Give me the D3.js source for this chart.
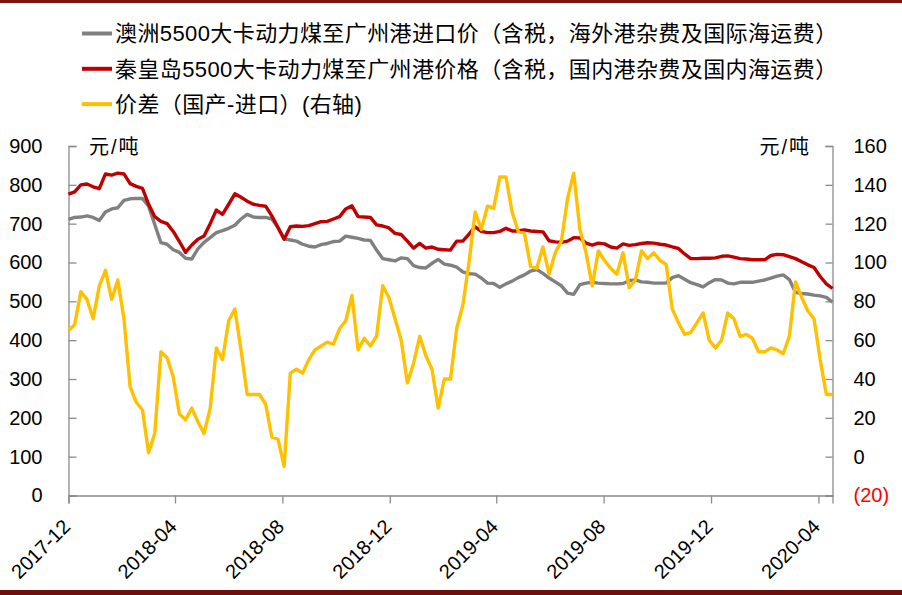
<!DOCTYPE html>
<html><head><meta charset="utf-8">
<script src="https://cdn.jsdelivr.net/npm/d3@7"></script>
<style>
html,body{margin:0;padding:0;background:#fff;}
svg{display:block;}
text{font-family:"Liberation Sans","Noto Sans CJK SC",Arial,sans-serif;}
</style></head>
<body>
<svg id="chart" width="902" height="595"></svg>
<script>
// weekly dates (Fridays)
const dates = [
"2017-12-01","2017-12-08","2017-12-15","2017-12-22","2017-12-29",
"2018-01-05","2018-01-12","2018-01-19","2018-01-26",
"2018-02-02","2018-02-09","2018-02-16","2018-02-23",
"2018-03-02","2018-03-09","2018-03-16","2018-03-23","2018-03-30",
"2018-04-06","2018-04-13","2018-04-20","2018-04-27",
"2018-05-04","2018-05-11","2018-05-18","2018-05-25",
"2018-06-01","2018-06-08","2018-06-15","2018-06-22","2018-06-29",
"2018-07-06","2018-07-13","2018-07-20","2018-07-27",
"2018-08-03","2018-08-10","2018-08-17","2018-08-24","2018-08-31",
"2018-09-07","2018-09-14","2018-09-21","2018-09-28",
"2018-10-05","2018-10-12","2018-10-19","2018-10-26",
"2018-11-02","2018-11-09","2018-11-16","2018-11-23","2018-11-30",
"2018-12-07","2018-12-14","2018-12-21","2018-12-28",
"2019-01-04","2019-01-11","2019-01-18","2019-01-25",
"2019-02-01","2019-02-08","2019-02-15","2019-02-22",
"2019-03-01","2019-03-08","2019-03-15","2019-03-22","2019-03-29",
"2019-04-05","2019-04-12","2019-04-19","2019-04-26",
"2019-05-03","2019-05-10","2019-05-17","2019-05-24","2019-05-31",
"2019-06-07","2019-06-14","2019-06-21","2019-06-28",
"2019-07-05","2019-07-12","2019-07-19","2019-07-26",
"2019-08-02","2019-08-09","2019-08-16","2019-08-23","2019-08-30",
"2019-09-06","2019-09-13","2019-09-20","2019-09-27",
"2019-10-04","2019-10-11","2019-10-18","2019-10-25",
"2019-11-01","2019-11-08","2019-11-15","2019-11-22","2019-11-29",
"2019-12-06","2019-12-13","2019-12-20","2019-12-27",
"2020-01-03","2020-01-10","2020-01-17","2020-01-24","2020-01-31",
"2020-02-07","2020-02-14","2020-02-21","2020-02-28",
"2020-03-06","2020-03-13","2020-03-20","2020-03-27",
"2020-04-03","2020-04-10","2020-04-17"
];

// 澳洲5500大卡动力煤至广州港进口价 (left axis)
const importPrice = [
711,716,717,720,716, 708,730,738,741, 760,764,765,765,
745,698,651,647,633, 626,611,609,635, 652,664,677,682,
688,696,712,724,717, 716,716,712,690, 661,658,655,647,642,
640,646,649,654, 655,668,665,662, 658,657,632,610,607,
604,612,610,592, 587,586,598,608, 596,593,588,576,
571,570,560,547,546, 536,545,552,561, 568,578,582,572,560,
550,540,521,518, 543,547,549,547, 546,545,545,546,553,
555,550,549,547, 547,547,561,566, 557,548,543,537,548,
556,555,547,545, 549,549,549,552,555, 560,565,568,556,
523,520,519,516, 514,510,498
];

// 秦皇岛5500大卡动力煤至广州港价格 (left axis)
const domesticPrice = [
776,782,800,802,795, 790,828,825,830, 828,803,796,791,
750,718,706,700,680, 654,626,645,660, 668,700,735,724,
750,777,768,758,750, 747,745,720,690, 660,692,694,693,695,
700,705,706,712, 718,738,746,718, 717,716,697,694,689,
675,672,655,637, 649,637,640,634, 633,632,655,655,
673,692,680,677,677, 680,688,681,681, 684,681,680,679,656,
653,652,655,664, 663,650,645,650, 648,640,637,648,644,
646,649,651,650, 647,645,640,636, 622,610,610,611,611,
612,616,617,614, 610,609,607,607,607, 618,621,620,615,
610,602,594,587, 564,545,533
];

// 价差（国产-进口）(右轴)
const spread = [
65,68,85,81,71, 88,96,81,91, 71,36,28,24,
2,12,54,51,41, 22,19,25,18, 12,25,56,50,
70,76,55,32,32, 32,27,10,9, -5,43,45,43,50,
55,57,59,58, 66,70,83,55, 61,57,62,88,82,
71,60,38,48, 62,52,45,25, 40,40,66,78,
100,126,117,129,128, 144,144,126,116, 115,98,97,108,94,
105,111,133,146, 117,105,88,106, 101,97,94,105,87,
91,106,102,105, 101,99,76,69, 63,64,69,74,60,
56,60,74,71, 62,63,61,54,54, 56,55,53,62,
90,82,75,71, 50,32,32
];

const xTickLabels = ["2017-12","2018-04","2018-08","2018-12","2019-04","2019-08","2019-12","2020-04"];
const leftTicks = [0,100,200,300,400,500,600,700,800,900];
const rightTicks = [-20,0,20,40,60,80,100,120,140,160];

const legendNames = [
  "澳洲5500大卡动力煤至广州港进口价（含税，海外港杂费及国际海运费）",
  "秦皇岛5500大卡动力煤至广州港价格（含税，国内港杂费及国内海运费）",
  "价差（国产-进口）(右轴)"
];
const colors = ["#808080","#C00000","#FFC000"];

const parse = d3.timeParse("%Y-%m-%d");
const parseM = d3.timeParse("%Y-%m");
const dd = dates.map(parse);

const svg = d3.select("#chart");
const L = 68.5, R = 832.5, T = 146, B = 495.5;

const x = d3.scaleTime().domain([parse("2017-12-01"), parse("2020-04-17")]).range([L, R]);
const yL = d3.scaleLinear().domain([0, 900]).range([B, T]);
const yR = d3.scaleLinear().domain([-20, 160]).range([B, T]);

// borders
svg.append("rect").attr("x",0).attr("y",0).attr("width",902).attr("height",3).attr("fill","#7A1212");
svg.append("rect").attr("x",0).attr("y",590).attr("width",902).attr("height",5).attr("fill","#6E0F0F");

const axisColor = "#8C8C8C";

// left axis
const gl = svg.append("g").attr("transform",`translate(${L},0)`)
  .call(d3.axisLeft(yL).tickValues(leftTicks).tickSize(-8).tickPadding(26).tickFormat(d3.format("d")));
// right axis
const gr = svg.append("g").attr("transform",`translate(${R},0)`)
  .call(d3.axisRight(yR).tickValues(rightTicks).tickSize(-7).tickPadding(21)
    .tickFormat(d => d < 0 ? `(${-d})` : String(d)));
// bottom axis
const gb = svg.append("g").attr("transform",`translate(0,${B})`)
  .call(d3.axisBottom(x).tickValues(xTickLabels.map(parseM)).tickSize(8).tickFormat(""));

[gl,gr,gb].forEach(g=>{
  g.select(".domain").attr("stroke",axisColor).attr("stroke-width",1.3);
  g.selectAll(".tick line").attr("stroke",axisColor).attr("stroke-width",1.3);
  g.selectAll("text").attr("font-size",20).attr("fill","#000")
    .attr("font-family","'Liberation Sans',Arial,sans-serif");
});
gr.selectAll(".tick text").attr("fill", d => d < 0 ? "#FF0000" : "#000");

// x labels rotated
svg.append("g").selectAll("text").data(xTickLabels).join("text")
  .attr("transform", d => `translate(${x(parseM(d)) + 3},528) rotate(-45)`)
  .attr("text-anchor","end")
  .attr("font-size",20)
  .attr("fill","#000")
  .text(d => d);

// unit labels
svg.append("text").attr("x",89).attr("y",147).attr("dy","0.36em")
  .attr("font-size",20).attr("letter-spacing",2).attr("font-family","'Noto Sans CJK SC',sans-serif")
  .text("元/吨");
svg.append("text").attr("x",811).attr("y",147).attr("dy","0.36em").attr("text-anchor","end")
  .attr("font-size",20).attr("letter-spacing",2).attr("font-family","'Noto Sans CJK SC',sans-serif")
  .text("元/吨");

// lines
const lineL = d3.line().x((d,i)=>x(dd[i])).y(d=>yL(d));
const lineR = d3.line().x((d,i)=>x(dd[i])).y(d=>yR(d));
const series = [
  {vals: importPrice, line: lineL, c: colors[0]},
  {vals: domesticPrice, line: lineL, c: colors[1]},
  {vals: spread, line: lineR, c: colors[2]}
];
svg.append("g").selectAll("path").data(series).join("path")
  .attr("d", s => s.line(s.vals))
  .attr("fill","none")
  .attr("stroke", s => s.c)
  .attr("stroke-width",3.4)
  .attr("stroke-linejoin","round");

// legend
const lg = svg.append("g").selectAll("g").data(legendNames).join("g")
  .attr("transform",(d,i)=>`translate(0,${33.5 + i*35.3})`);
lg.append("line").attr("x1",82).attr("x2",112).attr("y1",0).attr("y2",0)
  .attr("stroke",(d,i)=>colors[i]).attr("stroke-width",4);
lg.append("text").attr("x",115).attr("y",0).attr("dy","0.36em")
  .attr("font-size",22).attr("letter-spacing",0.4).attr("fill","#000")
  .text(d=>d);
</script>
</body></html>
